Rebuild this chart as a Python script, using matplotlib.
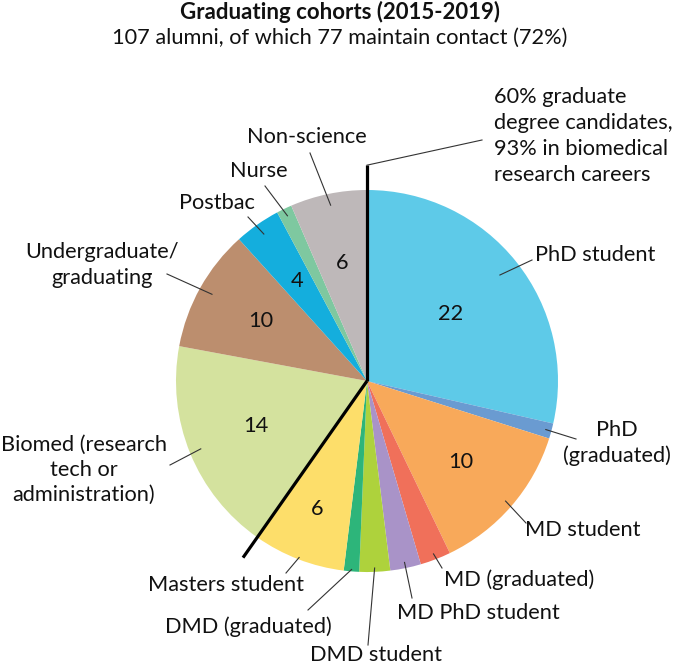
import matplotlib.pyplot as plt
import numpy as np

plt.rcParams['font.family'] = ['Lato', 'DejaVu Sans']

categories = ["PhD student", "PhD\n(graduated)", "MD student", "MD (graduated)",
              "MD PhD student", "DMD student", "DMD (graduated)", "Masters student",
              "Biomed (research\ntech or\nadministration)", "Undergraduate/\ngraduating",
              "Postbac", "Nurse", "Non-science"]
# slice sizes as drawn in the original (they add up to 77)
counts = [22, 1, 10, 2, 2, 2, 1, 6, 14, 8, 3, 1, 5]
# numbers printed on the slices, as in the original
count_labels = ["22", "", "10", "", "", "", "", "6", "14", "10", "4", "", "6"]
colors = ["#5ECAE8", "#6A9BD1", "#F8A95A", "#F0705A", "#A993C8", "#AED23C",
          "#2DB57A", "#FDDE6A", "#D4E29E", "#BC8E6E", "#14AEDD", "#7EC8A0", "#BEB8B9"]

title = "Graduating cohorts (2015-2019)"
subtitle = "107 alumni, of which 77 maintain contact (72%)"
note = "60% graduate\ndegree candidates,\n93% in biomedical\nresearch careers"

# layout in pixels of the 680x665 picture
W, H = 680, 665
CX, CY, R = 367, 381, 191


def px(x, y):
    return ((x - CX) / R, (CY - y) / R)


label_pos = [(595, 255), (617, 443), (583, 530), (519, 580), (478, 613), (376, 655),
             (248, 627), (226, 585), (84, 470), (102, 265), (217, 203), (259, 171), (307, 137)]
leader_end = [(532, 260), (576, 439), (526, 523), (442, 568), (412, 598), (368, 645),
              (308, 610), (286, 573), (170, 465), (167, 274), (248, 217), (265, 186), (310, 153)]
leader_r = [0.89, 0.97, 0.96, 0.97, 0.97, 0.98, 0.99, 0.99, 0.94, 0.93, 0.94, 0.96, 0.94]
count_r = [0.56, 0, 0.65, 0, 0, 0, 0, 0.72, 0.63, 0.64, 0.64, 0, 0.63]

fig = plt.figure(figsize=(6.8, 6.65), dpi=100)
ax = fig.add_axes([0, 0, 1, 1])
wedges, _ = ax.pie(counts, colors=colors, startangle=90, counterclock=False,
                   radius=1, wedgeprops=dict(linewidth=0))
ax.set_xlim(px(0, 0)[0], px(W, 0)[0])
ax.set_ylim(px(0, H)[1], px(0, 0)[1])
ax.axis('off')

fs = 15.7
for i, w in enumerate(wedges):
    mid = np.deg2rad((w.theta1 + w.theta2) / 2)
    if count_labels[i]:
        ax.text(count_r[i] * np.cos(mid), count_r[i] * np.sin(mid), count_labels[i],
                ha='center', va='center', fontsize=fs, color='#111111')
    x0, y0 = leader_r[i] * np.cos(mid), leader_r[i] * np.sin(mid)
    x1, y1 = px(*leader_end[i])
    ax.plot([x0, x1], [y0, y1], color='#333333', lw=0.8)
    lx, ly = px(*label_pos[i])
    ax.text(lx, ly, categories[i], ha='center', va='center', fontsize=fs,
            color='#111111', linespacing=1.32)

# the two black separators: graduate degree candidates vs. the rest
for ang in [wedges[0].theta2, wedges[7].theta1]:
    a = np.deg2rad(ang)
    ax.plot([0, 1.13 * np.cos(a)], [0, 1.13 * np.sin(a)], color='black', lw=2.3,
            solid_capstyle='butt')
top = (0, 1.13)
ax.plot([top[0], px(482, 140)[0]], [top[1], px(482, 140)[1]], color='#333333', lw=0.8)
ax.text(*px(494, 136), note, ha='left', va='center', fontsize=fs, color='#111111',
        linespacing=1.36)

ax.text(*px(340, 12), title, ha='center', va='center', fontsize=16,
        fontweight='bold', color='#111111')
ax.text(*px(340, 38), subtitle, ha='center', va='center', fontsize=fs, color='#111111')

fig.savefig('out.png', dpi=100)
